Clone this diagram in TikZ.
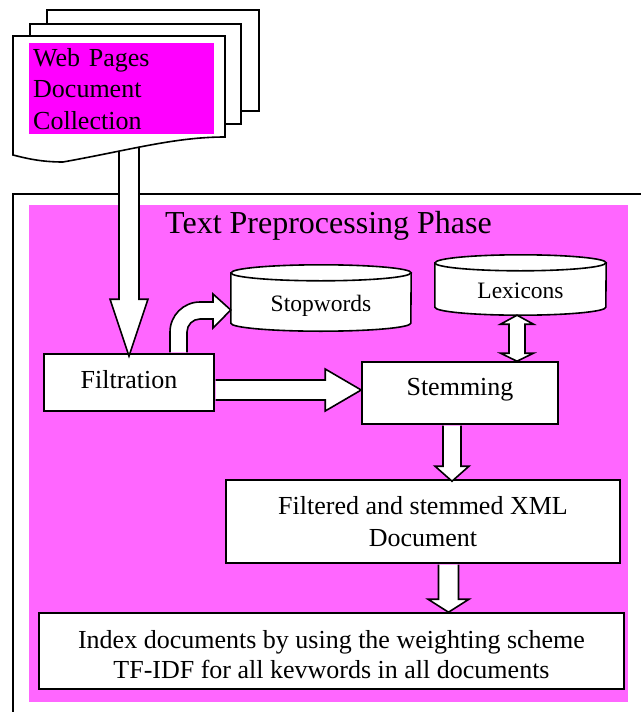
\documentclass[tikz,border=0pt]{standalone}
\usepackage{fontspec}
\setmainfont{Liberation Serif}
\usetikzlibrary{calc}
\definecolor{docmagenta}{RGB}{255,0,255}
\definecolor{phasemagenta}{RGB}{255,102,255}
\pgfdeclarelayer{paper}
\pgfdeclarelayer{drums}
\pgfsetlayers{paper,drums,main}

% block arrow pointing right: start, tip, shaft half width, head half width, head length
\newcommand\rightblock[5]{%
  \filldraw[blockarrow] let \p1=(#1), \p2=(#2) in
    (\x1,\y2+#3) -- (\x2-#5,\y2+#3) -- (\x2-#5,\y2+#4) -- (\p2)
    -- (\x2-#5,\y2-#4) -- (\x2-#5,\y2-#3) -- (\x1,\y2-#3);}
% block arrow pointing down: start, tip, shaft half width, head half width, head length
\newcommand\downblock[5]{%
  \filldraw[blockarrow] let \p1=(#1), \p2=(#2) in
    (\x2-#3,\y1) -- (\x2-#3,\y2+#5) -- (\x2-#4,\y2+#5) -- (\p2)
    -- (\x2+#4,\y2+#5) -- (\x2+#3,\y2+#5) -- (\x2+#3,\y1);}
% database drum around a node: node name, half width
\newcommand\drumaround[2]{%
  \filldraw[drum] ([yshift=8pt]#1.north west) -- ([yshift=8pt]#1.south west)
    arc[start angle=180,end angle=360,x radius=#2,y radius=8pt]
    -- ([yshift=8pt]#1.north east)
    arc[start angle=0,end angle=180,x radius=#2,y radius=8pt] -- cycle;
  \draw[drum] ([yshift=8pt]#1.north west)
    arc[start angle=180,end angle=360,x radius=#2,y radius=8pt];}

\begin{document}
\begin{tikzpicture}[x=1pt,y=-1pt,
  outline/.style={line width=1.6pt},
  box/.style={outline, draw, fill=white, inner sep=0pt, text height=18pt, text depth=6pt,
    font=\fontsize{26}{31.5}\selectfont},
  tallbox/.style={outline, draw, fill=white, inner sep=0pt, align=center},
  drumtext/.style={inner sep=0pt, text height=16pt, text depth=5pt,
    font=\fontsize{23.5}{28}\selectfont},
  drum/.style={outline, fill=white},
  blockarrow/.style={outline, fill=white, line join=miter},
  page/.style={outline, fill=white}]
\useasboundingbox (0,0) rectangle (640,712);
\clip (0,0) rectangle (640,712);

% phase frame and its background
\begin{pgfonlayer}{paper}
  \draw[line width=2pt] (13,730) -- (13,194) -- (660,194);
  \fill[phasemagenta] (29,205) rectangle (628,702);
\end{pgfonlayer}

\node[font=\fontsize{32}{32}\selectfont, anchor=base] (title) at (328.5,233) {Text Preprocessing Phase};

% process boxes
\node[box, minimum width=170, minimum height=57] (filt) at (129,382.5) {Filtration};
\node[box, text height=14pt, text depth=10pt, minimum width=196, minimum height=62]
  (stem) at (460,393) {Stemming};
\node[tallbox, minimum width=394, minimum height=83,
  font=\fontsize{26}{32}\selectfont] (fxml) at (423,521.5) {Filtered and stemmed XML\\Document};
\node[tallbox, minimum width=585, minimum height=76,
  font=\fontsize{26}{30}\selectfont] (index) at (331.5,651)
  {\rule{0pt}{26pt}Index documents by using the weighting scheme\\TF-IDF for all kevwords in all documents};

% databases
\node[drumtext, minimum width=180, minimum height=50] (stop) at (321,306) {Stopwords};
\node[drumtext, minimum width=171, minimum height=44] (lex) at (520.5,293) {Lexicons};
\begin{pgfonlayer}{drums}
  \drumaround{stop}{90pt}
  \drumaround{lex}{85.5pt}
\end{pgfonlayer}

% helper x positions for the vertical block arrows
\coordinate (docfoot) at (129,148);
\coordinate (xs) at (452,0);
\coordinate (xi) at (448.5,0);
\coordinate (xl) at (517,0);
\coordinate (xa) at (170,0);
\coordinate (xb) at (187,0);

% document collection into filtration
\downblock{docfoot}{[yshift=-3pt]filt.north}{10pt}{19pt}{57pt}

% filtration to stopwords (bent arrow)
\filldraw[blockarrow] ([yshift=0.8pt]xa |- filt.north) -- (170,332)
  arc[start angle=180,end angle=90,radius=30pt] -- (213,302) -- (213,294)
  -- ([yshift=-4pt]stop.west) -- (213,328) -- (213,319) -- (200,319)
  arc[start angle=90,end angle=180,radius=13pt] -- ([yshift=0.8pt]xb |- filt.north);

% filtration to stemming
\rightblock{[xshift=0.8pt]filt.east}{[yshift=3pt]stem.west}{10pt}{21pt}{36pt}

% lexicons <-> stemming
\filldraw[blockarrow] let \p1=(lex.south -| xl), \p2=(stem.north -| xl) in
  (\p1) -- (\x1+16.5pt,\y1-9pt) -- (\x1+8pt,\y1-9pt) -- (\x2+8pt,\y2+8pt)
  -- (\x2+16.5pt,\y2+8pt) -- (\p2) -- (\x2-16.5pt,\y2+8pt) -- (\x2-8pt,\y2+8pt)
  -- (\x1-8pt,\y1-9pt) -- (\x1-16.5pt,\y1-9pt) -- cycle;

% stemming to XML document, XML document to indexing
\downblock{[yshift=-0.8pt]stem.south}{[yshift=-2pt]fxml.north -| xs}{9pt}{17pt}{15pt}
\downblock{[yshift=-0.8pt]fxml.south}{index.north -| xi}{10pt}{20.5pt}{13pt}

% stacked web pages
\filldraw[page] (47,10) rectangle (259,111);
\filldraw[page] (30,24) rectangle (241,124);
\filldraw[page] (13,36) -- (225,36) -- (225,137)
  .. controls (175,137) and (130,150) .. (63,162)
  .. controls (40,162) and (25,158) .. (13,155) -- cycle;
\node[fill=docmagenta, anchor=north west, inner xsep=4pt, inner ysep=5pt,
  text width=177pt, minimum height=88, align=left,
  font=\fontsize{26}{31.5}\selectfont] (web) at (29,43) {Web Pages\\Document\\Collection};
\end{tikzpicture}
\end{document}
